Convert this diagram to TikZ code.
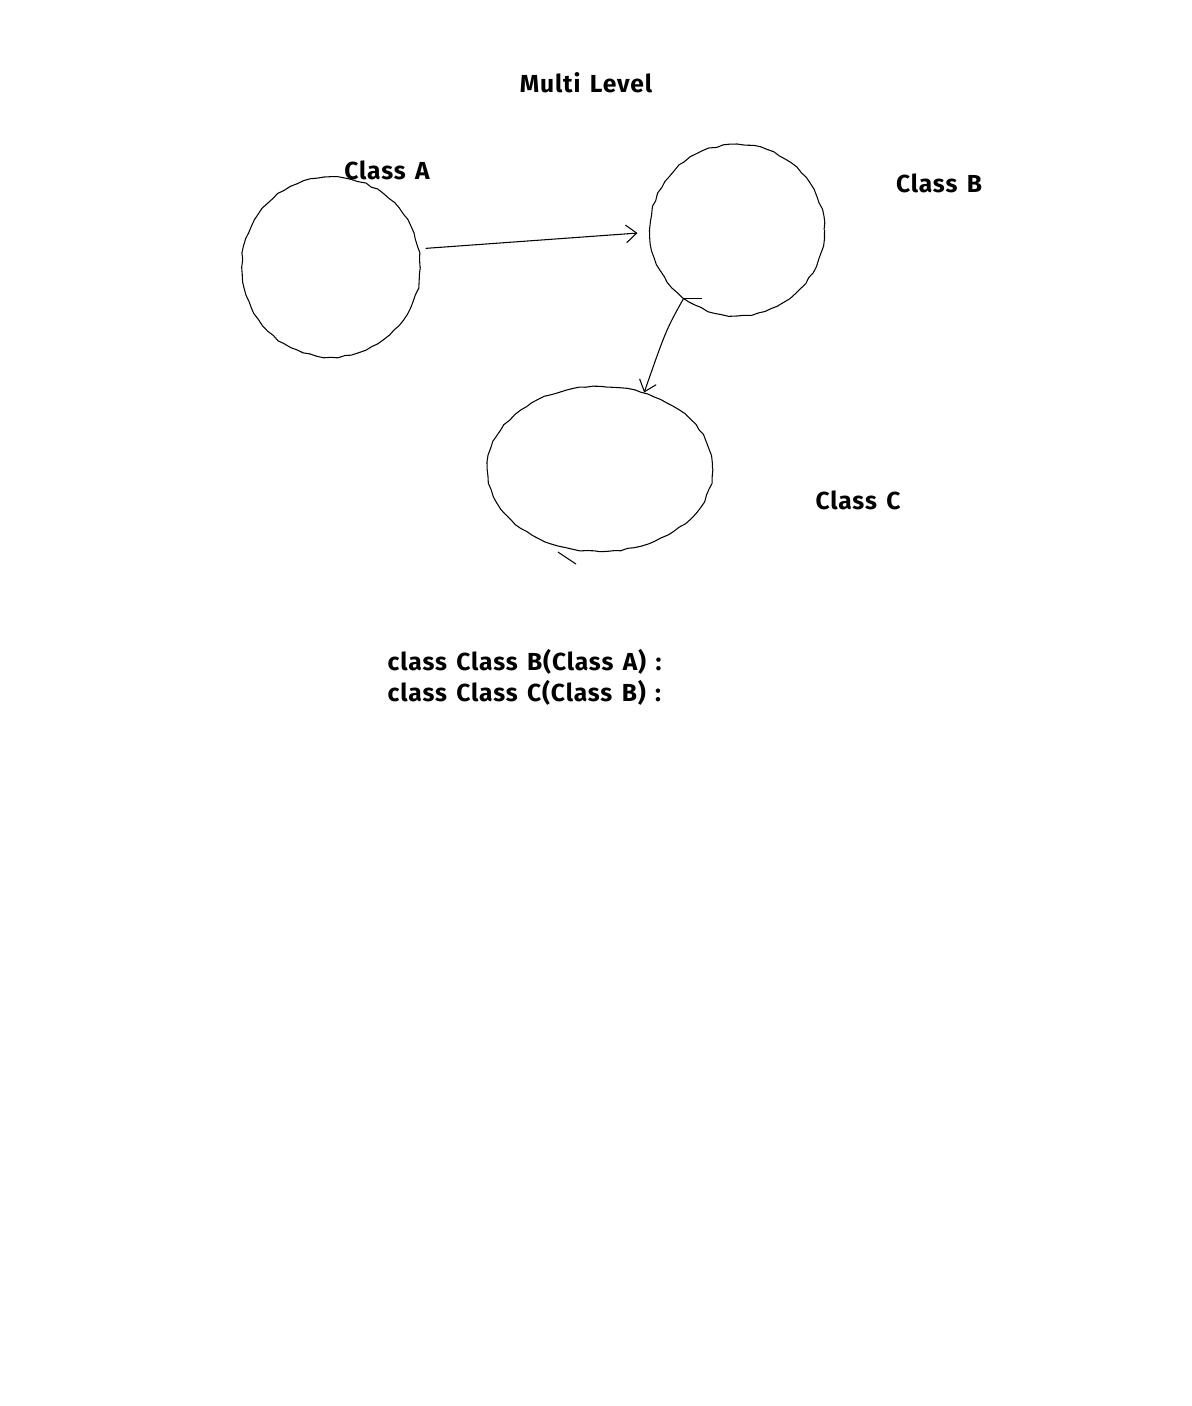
\documentclass[tikz,border=0pt]{standalone}
\usepackage{fontspec}
\setmainfont[LetterSpace=3.5,WordSpace=1.4]{Fira Sans}
\usepackage{tikz}
\usetikzlibrary{arrows.meta,shapes.geometric,decorations.pathmorphing}

\tikzset{
  sketch/.style={draw,line width=0.3pt,decorate,decoration={random steps,segment length=2pt,amplitude=0.25pt}},
  blob/.style={sketch,ellipse,inner sep=0pt},
  lbl/.style={font=\fontsize{7}{8.8}\selectfont\bfseries,inner sep=0pt},
}

\begin{document}
\begin{tikzpicture}[x=0.01cm,y=-0.01cm,>={Straight Barb[length=3pt,width=5pt]}]
\useasboundingbox (0,0) rectangle (1192,1406);
% title
\node[lbl](title) at (586,83){Multi Level};
% the three classes
\node[blob,minimum width=1.78cm,minimum height=1.80cm](A) at (331,267){};
\node[blob,minimum width=1.74cm,minimum height=1.71cm](B) at (737,230){};
\node[blob,minimum width=2.25cm,minimum height=1.65cm](C) at (600,469){};
\node[lbl](labA) at (387,170){Class A};
\node[lbl](labB) at (939,183){Class B};
\node[lbl](labC) at (858,500){Class C};
% inheritance arrows
\draw[->,line width=0.3pt]([xshift=0.07cm]A.12)--([xshift=-0.12cm]B.182);
\draw[->,line width=0.3pt](B.232)..controls (666,330)..(C.60);
\draw[line width=0.3pt](B.232)--++(18,0);
\draw[line width=0.3pt]([xshift=-0.42cm]C.270)--++(18,12);
% code
\node[lbl,anchor=west,align=left](code) at (387,677){class Class B(Class A) :\\class Class C(Class B) :};
\end{tikzpicture}
\end{document}
